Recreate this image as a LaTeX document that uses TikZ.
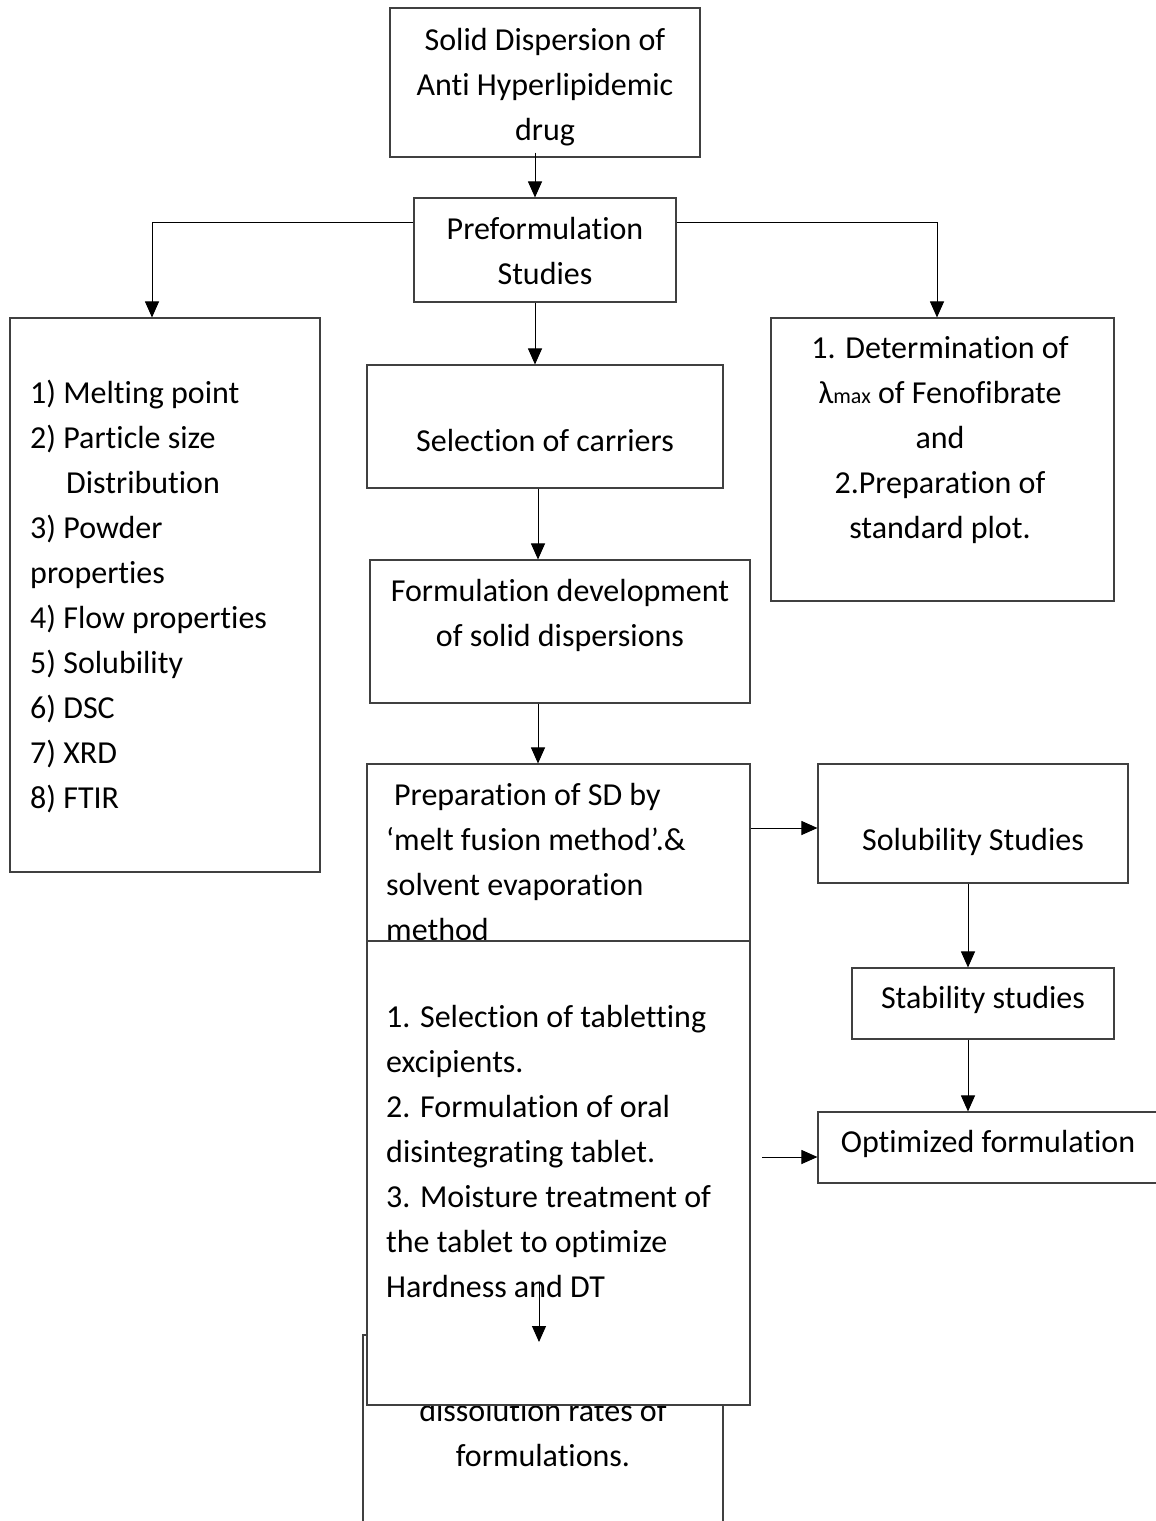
\documentclass[tikz,border=0pt]{standalone}
\usepackage{fontspec}
\setmainfont{Carlito}[Ligatures=NoCommon,Contextuals=NoAlternate]
\usetikzlibrary{arrows.meta,calc}
\newcommand{\bigtext}{\fontsize{32}{45}\selectfont}
\begin{document}
\begin{tikzpicture}[x=1pt,y=-1pt,
  box/.style={draw=black!75,line width=1.1pt,fill=white,rectangle,inner sep=0pt},
  txt/.style={font=\bigtext,inner sep=0pt,anchor=base},
  txtl/.style={font=\bigtext,inner sep=0pt,anchor=base west,align=left},
  arr/.style={draw=black,line width=1pt,-{Triangle[length=16pt,width=14pt]}}]
\useasboundingbox (0,0) rectangle (1156,1521);

% multi-line labels are placed by the baseline of their last line

% boxes of the upper part
\node[box,minimum width=310,minimum height=149] (top) at (545,82.5) {};
\node[txt,align=center] (toptxt) at (545,140) {Solid Dispersion of\\Anti Hyperlipidemic\\drug};

\node[box,minimum width=262,minimum height=104] (pre) at (545,250) {};
\node[txt,align=center] (pretxt) at (545,284) {Preformulation\\Studies};

\node[box,minimum width=310,minimum height=554] (left) at (165,595) {};
\node[txtl] (lefttxt) at (30,808) {1) Melting point\\2) Particle size\\\hspace*{36pt}Distribution\\3) Powder\\properties\\4) Flow properties\\5) Solubility\\6) DSC\\7) XRD\\8) FTIR};

\node[box,minimum width=343,minimum height=283] (right) at (942.5,459.5) {};
\node[txt,align=center] (righttxt) at (940,538) {1. Determination of\\λ{\fontsize{22}{22}\selectfont max} of Fenofibrate\\and\\2.Preparation of\\standard plot.};

\node[box,minimum width=356,minimum height=123] (carr) at (545,426.5) {};
\node[txt] (carrtxt) at (545,451) {Selection of carriers};

\node[box,minimum width=380,minimum height=143] (fdev) at (560,631.5) {};
\node[txt,align=center] (fdevtxt) at (560,646) {Formulation development\\of solid dispersions};

% right-hand column
\node[box,minimum width=310,minimum height=119] (sol) at (973,823.5) {};
\node[txt] (soltxt) at (973,850) {Solubility Studies};

\node[box,minimum width=262,minimum height=71] (stab) at (983,1003.5) {};
\node[txt] (stabtxt) at (983,1008) {Stability studies};

\node[box,minimum width=342,minimum height=71] (opt) at (989,1147.5) {};
\node[txt] (opttxt) at (988,1152) {Optimized formulation};

% evaluation box, partly hidden behind the tablet box
\node[box,minimum width=360,minimum height=205] (diss) at (543,1437.5) {};
\node[txt,align=center] (disstxt) at (543,1466) {dissolution rates of\\formulations.};

% solid dispersion preparation
\node[box,minimum width=383,minimum height=181] (prep) at (558.5,854.5) {};
\node[txtl] (preptxt) at (386,940) {\hspace*{8pt}Preparation of SD by\\‘melt fusion method’.\&\\solvent evaporation\\method};

% tablet formulation steps
\node[box,minimum width=383,minimum height=464] (tab) at (558.5,1173) {};
\node[txtl] (tabtxt) at (386,1297) {1. Selection of tabletting\\excipients.\\2. Formulation of oral\\disintegrating tablet.\\3. Moisture treatment of\\the tablet to optimize\\Hardness and DT};

% connectors
\draw[arr] ([xshift=-10pt,yshift=5pt]top.south) -- ([xshift=-10pt]pre.north);
\draw[arr] ([yshift=28pt]pre.west) -| ([xshift=-13pt]left.north);
\draw[arr] ([yshift=28pt]pre.east) -| ([xshift=-5.5pt]right.north);
\draw[arr] ([xshift=-10pt]pre.south) -- ([xshift=-10pt]carr.north);
\draw[arr] ([xshift=-7pt]carr.south) -- ([xshift=-22pt]fdev.north);
\draw[arr] ([xshift=-22pt]fdev.south) -- ([xshift=-20.5pt]prep.north);
\coordinate (prepout) at ([yshift=26.5pt]prep.east);
\draw[arr] (prepout) -- (prepout -| sol.west);
\draw[arr] ([xshift=-5pt]sol.south) -- ([xshift=-15pt]stab.north);
\draw[arr] ([xshift=-15pt]stab.south) -- ([xshift=-21pt]opt.north);
\coordinate (tabout) at (762,1157);
\draw[arr] (tabout) -- (tabout -| opt.west);
\coordinate (tabdownA) at (539,1284);
\coordinate (tabdownB) at (539,1342);
\draw[arr] (tabdownA) -- (tabdownB);
\end{tikzpicture}
\end{document}
